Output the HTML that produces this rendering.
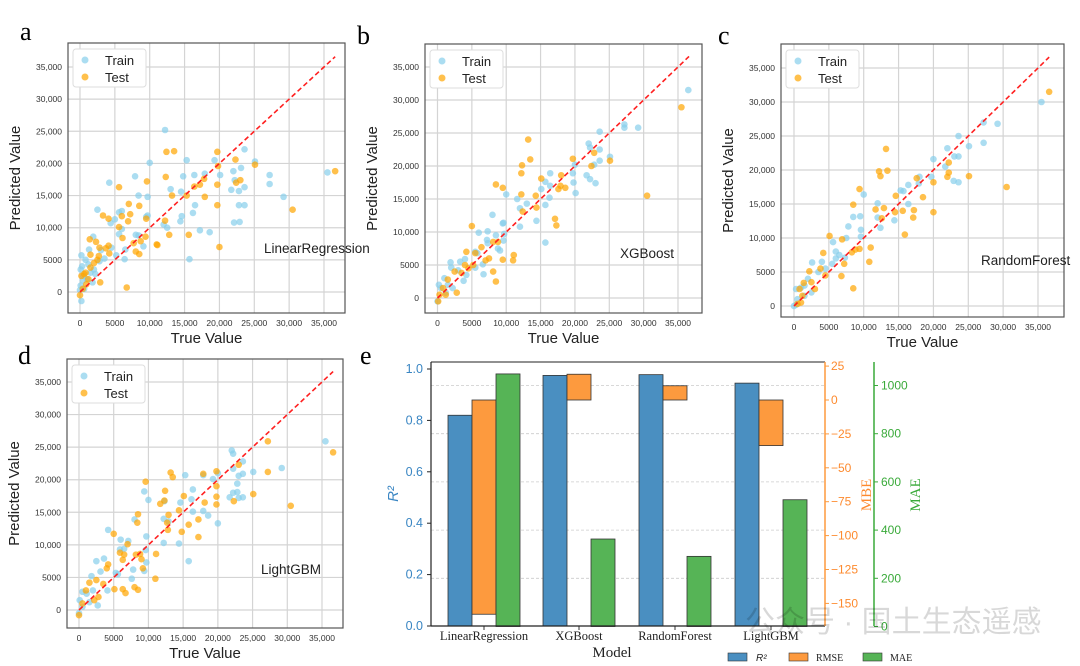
<!DOCTYPE html>
<html><head><meta charset="utf-8">
<style>
html,body{margin:0;padding:0;background:#fff;}
svg{display:block;font-family:"Liberation Sans","Noto Sans CJK SC",sans-serif;}
</style></head>
<body>
<svg id="fig" width="1080" height="666" viewBox="0 0 1080 666" xmlns="http://www.w3.org/2000/svg">
<rect width="1080" height="666" fill="#fff"/>
<text x="20" y="40" font-family="Liberation Serif,serif" font-size="26">a</text>
<text x="357" y="44" font-family="Liberation Serif,serif" font-size="26">b</text>
<text x="718" y="44" font-family="Liberation Serif,serif" font-size="26">c</text>
<text x="18" y="364" font-family="Liberation Serif,serif" font-size="26">d</text>
<text x="360" y="364" font-family="Liberation Serif,serif" font-size="26">e</text>
<g id="pa"></g><g id="pb"></g><g id="pc"></g><g id="pd"></g><g id="pe"></g>
<text x="745" y="632" font-size="30" fill="#000" opacity="0.15">公众号 · 国土生态遥感</text>
</svg>
<script>
// ---- scatter data (thousands) ----
const aTrain=[[12.2,25.2],[4.2,17],[7.9,18],[10,20.1],[15.3,20.5],[14.8,18],[16.4,18.2],[17.9,18.4],[19.3,20.5],[20.1,18.2],[22,18.8],[23.6,22.2],[25.1,20.3],[27.2,18.2],[27.2,16.8],[29.2,14.8],[35.5,18.6],[22.2,17.4],[21.7,15.9],[22.8,15.7],[23.1,19.3],[23.6,16.3],[22.8,13.5],[23.6,13.5],[22.1,10.8],[22.9,10.9],[16.2,12.3],[16.5,13.5],[17.2,9.6],[18.6,9.3],[15.7,5.1],[14.4,11],[14.6,11.8],[14.5,15.6],[13,16],[12,10.5],[12.5,10],[8.4,15],[9.7,14.8],[9.7,11.9],[9.5,11.7],[8,8.9],[8.4,8.8],[9.1,7.1],[5.6,12.4],[6,12.6],[5.6,9],[6,9.8],[4.4,10.7],[2.5,12.8],[1.9,8.6],[5,11.3],[4.5,6.9],[5.2,5.7],[6.4,5.1],[6.5,6.6],[3,6.5],[1.3,6.6],[0.2,5.7],[0.3,4],[0.8,5],[1.2,4.3],[1.5,3],[0.5,2.5],[1,2],[2,3.5],[0.1,1],[0.2,-1.4],[0.1,3.5],[3.5,5.2],[2.8,4.8],[0.6,0.5],[1.8,1.5],[0,0.3],[0.4,1.8],[2.2,2.8]];
const aTest=[[12.4,21.8],[13.5,21.9],[19.7,21.8],[22.3,20.6],[25.1,19.8],[19.8,19.6],[9.6,17.2],[5.6,16.3],[12.3,17.9],[19.7,16.7],[17.2,16.7],[16.4,16.4],[17.8,17.6],[22.4,17],[23,17.4],[13.2,15],[15.3,15],[17.9,14.8],[19.7,13.5],[30.5,12.8],[36.6,18.8],[7,13.7],[8.5,13.4],[3.3,11.9],[4.1,11.4],[6,11.8],[7.2,12.1],[6.9,11],[9.5,11.4],[12.2,11.1],[5.6,10.1],[12.8,8.9],[15.6,8.9],[9.4,8.6],[6.1,8.4],[8.7,7.9],[7.7,7.6],[11.1,7.3],[11,7.4],[8,6.3],[8.5,5.9],[20,7],[6.7,0.7],[1.4,8.2],[2.3,7.8],[2.8,6.9],[3.7,6.8],[4.1,7.2],[2.7,5.6],[1.5,5.8],[2.5,5],[4.2,6],[0.8,3],[0.2,2.5],[1.2,2],[0.6,2.8],[2.9,1.5],[0.4,0.5],[0,-0.5],[1.5,3.8],[2,4.5],[0.9,1.2]];
const bTrain=[[36.5,31.5],[27.2,26.3],[27.2,25.8],[29.2,25.8],[23.6,25.2],[22,23.4],[22.2,22.8],[23.6,22.5],[23.6,20.8],[22.8,20.2],[21.7,18.6],[22.2,18],[23,17.4],[25.1,21.4],[20,20.2],[19.7,18.9],[19.8,17.5],[20.1,15.9],[16.4,18.9],[15.7,17.6],[16.4,17],[16.3,15.2],[15.7,14.1],[14.4,11.7],[15.7,8.4],[15.1,16.5],[13,14.3],[12,13.6],[12,10.8],[11.6,15],[10,15.7],[9.5,11.3],[9.6,11.4],[9.7,9.7],[9.6,8.7],[8,12.6],[8.5,9.5],[7.3,10.1],[7.2,8.8],[7.3,8.3],[6,9.9],[8.8,7.5],[9.1,7.2],[5.5,7],[5.8,6.8],[6.6,5.1],[6.7,3.6],[5.5,4.6],[4,5.9],[3.3,5.5],[1.9,5.4],[2,4.6],[4.2,3.5],[3.8,2.6],[1,3],[1.5,2],[0.5,1.5],[0.2,2],[0,-0.5],[2.2,1.5],[1.2,0.8],[3,4.2]];
const bTest=[[35.5,28.9],[30.5,15.5],[13.2,24],[13.5,21],[12.3,20.1],[12.2,18.9],[19.7,21.1],[22.8,22],[22.4,20],[25.1,20.8],[18,18.6],[17.6,16.5],[18.6,16.7],[17.9,17],[15.1,18.1],[8.5,17.2],[9.5,16.7],[12.2,15.7],[14.3,15.5],[14.4,13.7],[12.4,13.1],[17.1,12],[17.3,11],[8.8,8.5],[8.1,8.5],[5,10.9],[11.1,6.5],[11,5.7],[9.5,5.8],[7.5,6],[7,5.7],[6.4,7.7],[5.5,6.8],[5.2,5],[4.2,7],[4,5],[2.5,4],[8.1,4],[8.5,2.5],[2.8,0.8],[1.5,2.8],[0.8,1.5],[0.3,0.5],[0.1,-0.5],[3.5,3.8],[4.5,4.5],[1.2,0.5]];
const cTrain=[[35.5,30],[27.2,27],[29.2,26.8],[27.2,24],[23.6,25],[23.6,22],[22,23.2],[23,22],[25.1,23.5],[22.9,18.4],[23.6,18.2],[21.7,20.5],[20,21.6],[19.7,19],[18,19],[17.9,18],[16.4,17.8],[15.7,16.9],[15.3,17],[16.4,15],[14.4,12.6],[12,15.1],[12,13],[12.4,11.5],[10,16.4],[9.5,13.2],[9.6,11.2],[9.6,10.2],[8.5,13.1],[7.8,11.7],[7.5,10],[5.6,9.4],[6,8],[6.5,7.5],[7.3,7.1],[6,7],[4,6.5],[2.6,6.4],[3.5,5],[2,4],[1.5,3],[1,2.7],[0.3,2.5],[0.5,1],[0,0],[2.5,2],[4.5,5.5],[5.5,6.2],[1.5,1.5],[0.3,0.2]];
const cTest=[[36.6,31.5],[30.5,17.5],[13.2,23.1],[12.2,19.8],[12.4,19.1],[13.4,19.9],[22.2,21.1],[22.2,19.6],[22,19],[25.1,19.1],[20,18.2],[20,13.8],[18.5,16],[17.6,18.8],[17.2,14.1],[17.1,13],[15.9,10.5],[15.6,14],[14.5,13.8],[14.6,16.2],[12.9,14.4],[12.6,12.9],[11.7,14.2],[11,8.6],[10.8,6.5],[9.4,17.2],[8.5,14.9],[8.5,2.6],[9.4,8.4],[8.8,8.3],[8.3,7.9],[7.2,6.2],[6.8,4.4],[6.9,9.8],[5.1,10.3],[4.2,7.8],[3.8,5.5],[2.2,5.1],[1.4,3.4],[0.8,2.5],[1.2,1.5],[0.5,0.3],[2.5,3.5],[3,2.5],[4.5,4.5],[1,0.5]];
const dTrain=[[35.5,25.9],[29.2,21.8],[22,24.5],[22.2,24],[23.6,22.8],[22.2,21.7],[23,20.6],[23.6,20.9],[25.1,21.2],[22.8,19.4],[22.8,18.1],[23.6,17.3],[23,17.2],[21.7,17.3],[22.2,18],[20,21],[19.3,20.1],[17.9,20.7],[20,13.3],[18.6,14.5],[17.9,15.2],[16.4,18.5],[16.4,15.1],[16.2,17],[15.3,20.7],[14.6,16.5],[14.4,10.2],[15.8,7.5],[12.2,14],[12.3,16.7],[12.2,10.3],[12.9,13.6],[10,16.9],[9.4,18.2],[9.7,11.3],[9.6,9.2],[9.7,7.3],[9.4,6],[8,13.9],[7.1,10.6],[6,10.8],[5.9,9.3],[6.5,9.4],[7.8,6.2],[7.6,4.8],[4.2,12.3],[3.6,7.9],[3.1,5.9],[2.5,7.5],[1.8,5.2],[5.6,5.5],[5.3,5.7],[4.1,3],[2.7,0.7],[2,3],[1.1,2.5],[0.5,2.8],[0.1,1.5],[0.5,0.5],[1.5,1.2],[0,-0.5]];
const dTest=[[36.6,24.2],[27.2,25.9],[27.2,21.2],[30.5,16],[23,22.3],[25.1,17.8],[22.3,16.7],[19.8,21.3],[17.9,20.9],[19.8,19],[19.8,17.4],[19.8,16.2],[18.1,16.5],[17.2,13.9],[17.2,11.2],[15.8,13.1],[15.1,17.5],[14.8,12],[14.4,15.3],[13.2,21.1],[13.5,20.4],[12.4,18.3],[12.3,16.8],[11.7,16.3],[12.9,14.6],[12.7,13.4],[12.8,12.3],[11.1,8.6],[11,4.8],[9.6,19.7],[8.5,14.7],[8.4,13.4],[8.8,8.6],[8.2,8.5],[9,7.8],[9.2,6.4],[7,10.1],[6.3,7.7],[5.9,8.8],[6.5,8.5],[5,11.7],[4.2,7],[4,6.4],[5.1,3.2],[6.3,3.2],[6.7,2.6],[8,3.5],[8.5,3.1],[2.5,4.6],[1.5,4.2],[1,3],[2.8,2],[0.5,1],[0,-0.8],[3.5,4],[2.2,1.5]];
const scatterTicks=[0,5000,10000,15000,20000,25000,30000,35000];
const scatterTickLabels=["0","5000","10,000","15,000","20,000","25,000","30,000","35,000"];
const lineMax=36600;

// ---- bar chart data ----
const models=["LinearRegression","XGBoost","RandomForest","LightGBM"];
const r2Values=[0.82,0.975,0.978,0.945];
const mbeValues=[-158,19,10.5,-33.6];
const maeValues=[1048,363,291,526];
const r2Ticks=[0,0.2,0.4,0.6,0.8,1.0];
const r2TickLabels=["0.0","0.2","0.4","0.6","0.8","1.0"];
const mbeTicks=[25,0,-25,-50,-75,-100,-125,-150];
const maeTicks=[0,200,400,600,800,1000];

const NS="http://www.w3.org/2000/svg";
function mk(parent,tag,attrs,text){const e=document.createElementNS(NS,tag);for(const k in attrs)e.setAttribute(k,attrs[k]);if(text!==undefined)e.textContent=text;parent.appendChild(e);return e;}

function scatter(gid,cfg,train,test,label,prefix){
  const g=document.getElementById(gid);
  
  
  const sx=v=>cfg.x0+(cfg.x35-cfg.x0)*v/35000;
  const sy=v=>cfg.y0+(cfg.y35-cfg.y0)*v/35000;
  mk(g,'rect',{x:cfg.L,y:cfg.T,width:cfg.R-cfg.L,height:cfg.B-cfg.T,fill:'#fff'});
  scatterTicks.forEach((t,i)=>{
    const gx=mk(g,'line',{x1:sx(t),x2:sx(t),y1:cfg.T,y2:cfg.B,stroke:'#d4d4d4','stroke-width':1.2});
    
    
    const gy=mk(g,'line',{x1:cfg.L,x2:cfg.R,y1:sy(t),y2:sy(t),stroke:'#d4d4d4','stroke-width':1.2});
    
    
    const tx=mk(g,'text',{x:sx(t),y:cfg.B+13,'font-size':8.5,'text-anchor':'middle',fill:'#333'},scatterTickLabels[i]);
    
    
    const ty=mk(g,'text',{x:cfg.L-6,y:sy(t)+3,'font-size':8.5,'text-anchor':'end',fill:'#333'},scatterTickLabels[i]);
    
    
  });
  train.forEach(p=>{const c=mk(g,'circle',{cx:sx(p[0]*1000),cy:sy(p[1]*1000),r:3.3,fill:'#87CEEB','fill-opacity':0.7});
    
    });
  test.forEach(p=>{const c=mk(g,'circle',{cx:sx(p[0]*1000),cy:sy(p[1]*1000),r:3.3,fill:'#FFA500','fill-opacity':0.7});
    
    });
  const ln=mk(g,'line',{x1:sx(0),y1:sy(0),x2:sx(lineMax),y2:sy(lineMax),stroke:'#ff2020','stroke-width':1.6,'stroke-dasharray':'5,3'});
  
  
  const fr=mk(g,'rect',{x:cfg.L,y:cfg.T,width:cfg.R-cfg.L,height:cfg.B-cfg.T,fill:'none',stroke:'#555','stroke-width':1.2});
  
  
  // legend
  const lg=mk(g,'g',{});
  
  
  mk(lg,'rect',{x:cfg.L+5,y:cfg.T+6,width:73,height:38,rx:3,fill:'#fff',stroke:'#ddd'});
  mk(lg,'circle',{cx:cfg.L+17,cy:cfg.T+17,r:3.5,fill:'#87CEEB','fill-opacity':0.7});
  mk(lg,'text',{x:cfg.L+37,y:cfg.T+22,'font-size':13,fill:'#222'},'Train');
  mk(lg,'circle',{cx:cfg.L+17,cy:cfg.T+34,r:3.5,fill:'#FFA500','fill-opacity':0.7});
  mk(lg,'text',{x:cfg.L+37,y:cfg.T+39,'font-size':13,fill:'#222'},'Test');
  const an=mk(g,'text',{x:cfg.ax,y:cfg.ay,'font-size':13.5,fill:'#222'},label);
  
  
  const xt=mk(g,'text',{x:(cfg.L+cfg.R)/2,y:cfg.B+30,'font-size':15,'text-anchor':'middle',fill:'#222'},'True Value');
  
  
  const yc=(cfg.T+cfg.B)/2, yx=cfg.L-48;
  const yt=mk(g,'text',{x:yx,y:yc,'font-size':15,'text-anchor':'middle',fill:'#222',transform:`rotate(-90 ${yx} ${yc})`},'Predicted Value');
  
  
}

scatter('pa',{L:68,R:345,T:43,B:313,x0:80,x35:324,y0:292,y35:67,ax:264,ay:253},aTrain,aTest,'LinearRegression','a');
scatter('pb',{L:425,R:702,T:44,B:313,x0:437.5,x35:678,y0:298,y35:67,ax:620,ay:258},bTrain,bTest,'XGBoost','b');
scatter('pc',{L:781,R:1064,T:44,B:317,x0:794,x35:1038,y0:306,y35:68,ax:981,ay:265},cTrain,cTest,'RandomForest','c');
scatter('pd',{L:67,R:343,T:359,B:628,x0:79,x35:322,y0:610,y35:382,ax:261,ay:574},dTrain,dTest,'LightGBM','d');

// ---- bar chart ----
(function(){
  const g=document.getElementById('pe');
  
  
  const L=431,R=825,T=362,B=626;
  const yR2=v=>626-v*257;
  const yMBE=v=>400-v*(33.9/25);
  const yMAE=v=>626.5-v*(48.2/200);
  const cx=[484,579,675,771];
  const bw=24;
  maeTicks.slice(1).forEach(t=>{const l=mk(g,'line',{x1:L,x2:R,y1:yMAE(t),y2:yMAE(t),stroke:'#ccc','stroke-dasharray':'3,2','stroke-width':0.8});
    
    });
  models.forEach((m,i)=>{
    const b1=mk(g,'rect',{x:cx[i]-1.5*bw,y:yR2(r2Values[i]),width:bw,height:yR2(0)-yR2(r2Values[i]),fill:'#4a8fc1',stroke:'#333','stroke-width':0.8});
    
    
    const y0=yMBE(0),yv=yMBE(mbeValues[i]);
    const b2=mk(g,'rect',{x:cx[i]-0.5*bw,y:Math.min(y0,yv),width:bw,height:Math.abs(yv-y0),fill:'#fd9a3e',stroke:'#333','stroke-width':0.8});
    
    
    const b3=mk(g,'rect',{x:cx[i]+0.5*bw,y:yMAE(maeValues[i]),width:bw,height:yMAE(0)-yMAE(maeValues[i]),fill:'#56b456',stroke:'#333','stroke-width':0.8});
    
    
    mk(g,'line',{x1:cx[i],x2:cx[i],y1:B,y2:B+4,stroke:'#333'});
    const tl=mk(g,'text',{x:cx[i],y:B+14,'font-size':12.5,'text-anchor':'middle','font-family':'Liberation Serif,serif',fill:'#222'},m);
    
    
  });
  mk(g,'line',{x1:L,x2:R,y1:T,y2:T,stroke:'#222','stroke-width':1});
  mk(g,'line',{x1:L,x2:R,y1:B,y2:B,stroke:'#222','stroke-width':1.2});
  mk(g,'line',{x1:L,x2:L,y1:T,y2:B,stroke:'#222','stroke-width':1.2});
  mk(g,'line',{x1:R,x2:R,y1:T,y2:B,stroke:'#fd9a3e','stroke-width':1.5});
  mk(g,'line',{x1:874,x2:874,y1:T,y2:B,stroke:'#3aaa3a','stroke-width':1.5});
  r2Ticks.forEach((t,i)=>{
    mk(g,'line',{x1:L-4,x2:L,y1:yR2(t),y2:yR2(t),stroke:'#222'});
    const tx=mk(g,'text',{x:L-8,y:yR2(t)+4,'font-size':12.5,'text-anchor':'end',fill:'#3a86c3'},r2TickLabels[i]);
    
    
  });
  mbeTicks.forEach(t=>{
    mk(g,'line',{x1:R,x2:R+4,y1:yMBE(t),y2:yMBE(t),stroke:'#fd9a3e'});
    const tx=mk(g,'text',{x:R+6,y:yMBE(t)+4,'font-size':12,fill:'#fd8a2e'},t<0?'\u2212'+(-t):String(t));
    
    
  });
  maeTicks.forEach(t=>{
    mk(g,'line',{x1:874,x2:878,y1:yMAE(t),y2:yMAE(t),stroke:'#3aaa3a'});
    const tx=mk(g,'text',{x:881,y:yMAE(t)+4,'font-size':12,fill:'#3aaa3a'},String(t));
    
    
  });
  const a1=mk(g,'text',{x:398,y:494,'font-size':15,'text-anchor':'middle',fill:'#3a86c3',transform:'rotate(-90 398 494)','font-style':'italic'},'R²');
  
  
  const a2=mk(g,'text',{x:871,y:495,'font-size':15,'text-anchor':'middle',fill:'#fd8a2e','font-family':'Liberation Serif,serif',transform:'rotate(-90 871 495)'},'MBE');
  
  
  const a3=mk(g,'text',{x:920,y:495,'font-size':15,'text-anchor':'middle',fill:'#3aaa3a','font-family':'Liberation Serif,serif',transform:'rotate(-90 920 495)'},'MAE');
  
  
  const xt=mk(g,'text',{x:612,y:657,'font-size':15,'text-anchor':'middle','font-family':'Liberation Serif,serif',fill:'#222'},'Model');
  
  
  const lg=mk(g,'g',{});
  
  
  mk(lg,'rect',{x:728,y:653,width:19,height:8,fill:'#4a8fc1',stroke:'#333','stroke-width':0.6});
  mk(lg,'text',{x:756,y:661,'font-size':10,'font-style':'italic',fill:'#222'},'R²');
  mk(lg,'rect',{x:789,y:653,width:19,height:8,fill:'#fd9a3e',stroke:'#333','stroke-width':0.6});
  mk(lg,'text',{x:816,y:661,'font-size':10,'font-family':'Liberation Serif,serif',fill:'#222'},'RMSE');
  mk(lg,'rect',{x:863,y:653,width:19,height:8,fill:'#56b456',stroke:'#333','stroke-width':0.6});
  mk(lg,'text',{x:890,y:661,'font-size':10,'font-family':'Liberation Serif,serif',fill:'#222'},'MAE');
})();
</script>
</body></html>
